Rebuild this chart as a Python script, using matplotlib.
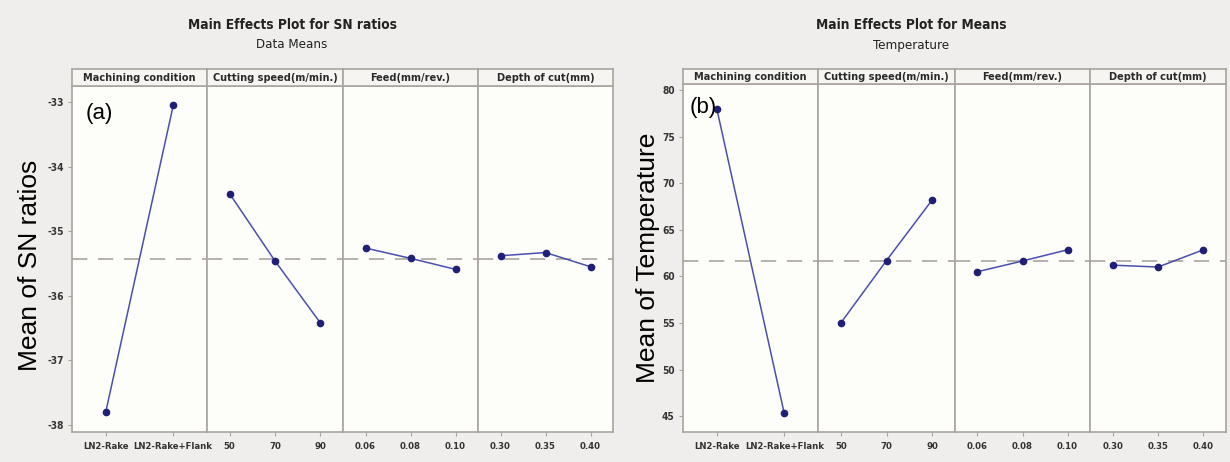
import matplotlib.pyplot as plt
import numpy as np

# factor names and levels (same for both charts)
factors = ['Machining condition', 'Cutting speed(m/min.)', 'Feed(mm/rev.)', 'Depth of cut(mm)']
levels = [['LN2-Rake', 'LN2-Rake+Flank'],
          ['50', '70', '90'],
          ['0.06', '0.08', '0.10'],
          ['0.30', '0.35', '0.40']]

# (a) mean of SN ratios
sn_mc = [-37.80, -33.05]
sn_speed = [-34.42, -35.46, -36.42]
sn_feed = [-35.26, -35.42, -35.59]
sn_doc = [-35.38, -35.33, -35.55]
sn_grand = -35.43

# (b) mean of temperature
t_mc = [78.0, 45.3]
t_speed = [55.0, 61.7, 68.2]
t_feed = [60.5, 61.65, 62.85]
t_doc = [61.2, 61.0, 62.85]
t_grand = 61.7

W, H = 1230, 462
bg = '#efeeec'
panel_bg = '#fdfdf9'
edge = '#aaa49e'
line_c = '#4a4fb0'
mark_c = '#1f1f78'
cond = dict(fontfamily='DejaVu Sans', fontstretch='condensed')

fig = plt.figure(figsize=(W / 100, H / 100), dpi=100)
fig.patch.set_facecolor(bg)


def px(x0, y0, x1, y1):
    return [x0 / W, 1 - y1 / H, (x1 - x0) / W, (y1 - y0) / H]


def draw_chart(edges, top, head_top, bottom, data, grand, ylim, yticks,
               ylabel, ylab_xy, tag, tag_xy, title, subtitle, title_x):
    axes = []
    for i, vals in enumerate(data):
        ax = fig.add_axes(px(edges[i], top, edges[i + 1], bottom))
        ax.set_facecolor(panel_bg)
        n = len(vals)
        xs = np.arange(1, n + 1)
        ax.plot(xs, vals, color=line_c, lw=1.1, marker='o', ms=4.5,
                mfc=mark_c, mec=mark_c, zorder=3)
        ax.axhline(grand, color='#a39d97', lw=1.1, dashes=(10, 7), zorder=2)
        ax.set_xlim(0.5, n + 0.5)
        ax.set_ylim(*ylim)
        ax.set_xticks(xs)
        ax.set_xticklabels(levels[i], fontweight='bold', fontsize=6.8,
                           color='#333333', **cond)
        for s in ax.spines.values():
            s.set_color(edge)
            s.set_linewidth(1.2)
        ax.tick_params(axis='x', length=3, color=edge, pad=4)
        if i == 0:
            ax.set_yticks(yticks)
            ax.set_yticklabels([str(v) for v in yticks], fontweight='bold',
                               fontsize=7.3, color='#333333', **cond)
            ax.tick_params(axis='y', length=3, color=edge, pad=3)
        else:
            ax.set_yticks([])
        # header band
        hx = fig.add_axes(px(edges[i], head_top, edges[i + 1], top))
        hx.set_facecolor('#f6f5f1')
        hx.set_xticks([])
        hx.set_yticks([])
        for s in hx.spines.values():
            s.set_color(edge)
            s.set_linewidth(1.2)
        hx.text(0.5, 0.45, factors[i], ha='center', va='center',
                fontweight='bold', fontsize=7.8, color='#2a2a2a', **cond)
        axes.append(ax)
    axes[0].text(tag_xy[0], tag_xy[1], tag, transform=fig.transFigure,
                 fontsize=16, color='black', ha='left', va='center',
                 fontfamily='Liberation Sans')
    fig.text(ylab_xy[0] / W, 1 - ylab_xy[1] / H, ylabel, rotation=90,
             ha='center', va='center', fontsize=19, fontfamily='Liberation Sans')
    fig.text(title_x / W, 1 - 25 / H, title, ha='center', va='center',
             fontweight='bold', fontsize=9.8, color='#222222', **cond)
    fig.text(title_x / W, 1 - 45 / H, subtitle, ha='center', va='center',
             fontsize=9.5, color='#222222', **cond)


draw_chart([72, 207, 343, 478, 613], 86, 69, 432,
           [sn_mc, sn_speed, sn_feed, sn_doc], sn_grand,
           (-38.11, -32.75), [-38, -37, -36, -35, -34, -33],
           'Mean of SN ratios', (30, 265), '(a)', (86 / W, 1 - 113 / H),
           'Main Effects Plot for SN ratios', 'Data Means', 292)

draw_chart([683, 818, 955, 1090, 1226], 84, 69, 432,
           [t_mc, t_speed, t_feed, t_doc], t_grand,
           (43.3, 80.64), [45, 50, 55, 60, 65, 70, 75, 80],
           'Mean of Temperature', (648, 258), '(b)', (690 / W, 1 - 108 / H),
           'Main Effects Plot for Means', 'Temperature', 911)

fig.savefig('out.png', dpi=100, facecolor=bg)
